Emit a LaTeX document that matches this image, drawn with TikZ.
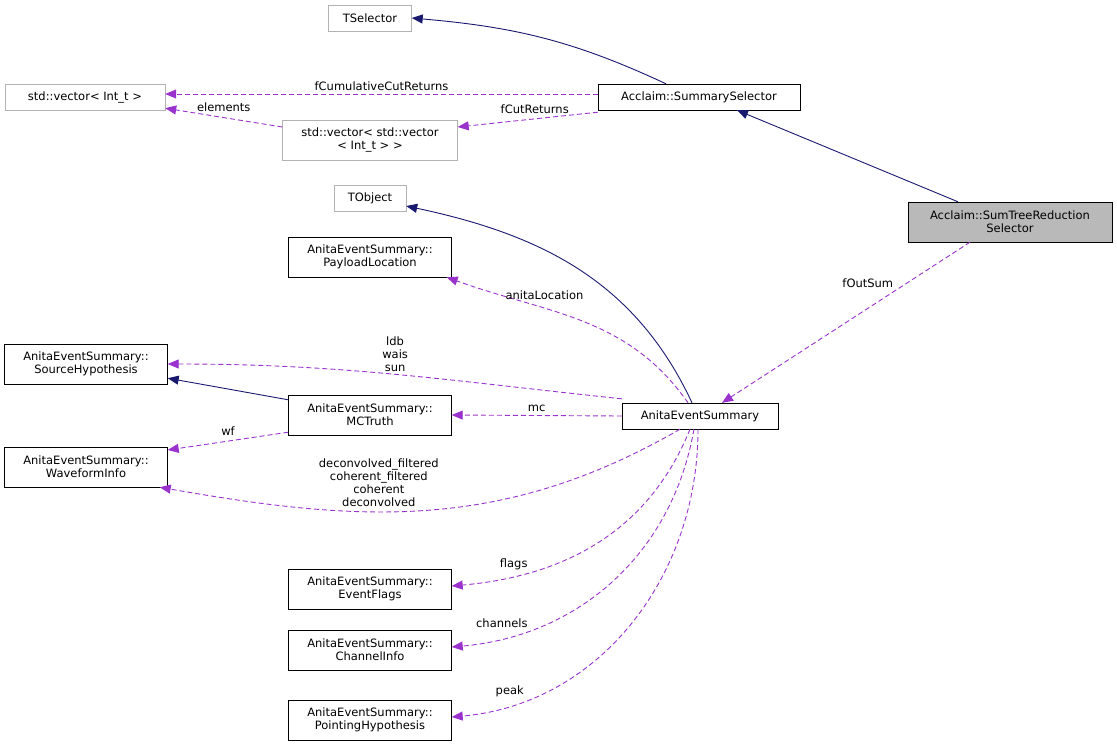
\documentclass[tikz,border=0pt]{standalone}
\usepackage{fontspec}
\setmainfont{DejaVu Sans}
\usepackage{tikz}
\usetikzlibrary{arrows.meta,calc}
\definecolor{orchid}{HTML}{9A32CD}
\definecolor{navyblue}{HTML}{191970}
\tikzset{
  font={\fontsize{11.5pt}{13pt}\selectfont},
  cls/.style={draw=black,fill=white,align=center,inner sep=2pt,minimum height=26pt},
  ext/.style={cls,draw=gray!60},
  inh/.style={draw=navyblue,line width=0.9pt,-{Triangle[length=11pt,width=9pt]}},
  use/.style={draw=orchid,line width=0.9pt,dash pattern=on 5pt off 3pt,-{Triangle[length=11pt,width=9pt]}},
  lbl/.style={align=center,inner sep=2pt}}

\begin{document}
\begin{tikzpicture}[x=1pt,y=-1pt]
\useasboundingbox (0,0) rectangle (1117,745);
% classes
\node [ext,minimum width=83pt] (tsel) at (370,18) {TSelector};
\node [ext,minimum width=160pt] (vint) at (85,97) {std::vector< Int\_t >};
\node [cls,minimum width=202pt] (ssel) at (699,97) {Acclaim::SummarySelector};
\node [ext,minimum width=175pt,minimum height=40pt] (vvint) at (370,140) {std::vector< std::vector\\< Int\_t > >};
\node [ext,minimum width=72pt] (tobj) at (370,198) {TObject};
\node [cls,fill=gray!55,minimum width=204pt,minimum height=40pt] (strs) at (1010,222) {Acclaim::SumTreeReduction\\Selector};
\node [cls,minimum width=163pt,minimum height=40pt] (ploc) at (370,257) {AnitaEventSummary::\\PayloadLocation};
\node [cls,minimum width=163pt,minimum height=40pt] (shyp) at (86,364) {AnitaEventSummary::\\SourceHypothesis};
\node [cls,minimum width=163pt,minimum height=40pt] (mct) at (370,415) {AnitaEventSummary::\\MCTruth};
\node [cls,minimum width=156pt] (aes) at (700,416) {AnitaEventSummary};
\node [cls,minimum width=163pt,minimum height=40pt] (wfi) at (86,467) {AnitaEventSummary::\\WaveformInfo};
\node [cls,minimum width=163pt,minimum height=40pt] (efl) at (370,589) {AnitaEventSummary::\\EventFlags};
\node [cls,minimum width=163pt,minimum height=40pt] (chi) at (370,650) {AnitaEventSummary::\\ChannelInfo};
\node [cls,minimum width=163pt,minimum height=40pt] (phyp) at (370,720) {AnitaEventSummary::\\PointingHypothesis};
% inheritance
\draw [inh] ($(ssel.north)+(-33,0)$) to[out=155,in=-5] (tsel.east);
\draw [inh] ($(strs.north)+(-52,0)$) -- ($(ssel.south)+(38,0)$);
\draw [inh] ($(aes.north)+(-8,0)$) to[out=115,in=-12] ($(tobj.east)+(0,8)$);
\draw [inh] ($(mct.north west)+(0,5)$) -- ($(shyp.south east)+(0,-6)$);
% members
\draw [use] ($(ssel.west)+(0,-3)$) -- node [lbl,above=1pt] {fCumulativeCutReturns} ($(vint.east)+(0,-3)$);
\draw [use] ($(ssel.south west)+(0,2)$) -- node [lbl,above=3pt,pos=0.45] {fCutReturns} ($(vvint.east)+(0,-13)$);
\draw [use] ($(vvint.west)+(0,-13)$) -- node [lbl,above=3pt,pos=0.5] {elements} ($(vint.south east)+(0,-2)$);
\draw [use] ($(strs.south)+(-40,0)$) -- node [lbl,above left,pos=0.3] {fOutSum} ($(aes.north)+(22,0)$);
\draw [use] ($(aes.north)+(-12,0)$) to[out=125,in=-20] node [lbl,above=6pt,pos=0.65] {anitaLocation} ($(ploc.south east)+(-5,0)$);
\draw [use] ($(aes.north west)+(0,-4)$) to[out=174,in=0] node [lbl,above,pos=0.5] {ldb\\wais\\sun} (shyp.east);
\draw [use] (aes.west) -- node [lbl,above=1pt] {mc} (mct.east);
\draw [use] ($(mct.south west)+(0,-3)$) -- node [lbl,above=3pt] {wf} ($(wfi.east)+(0,-17)$);
\draw [use] ($(aes.south)+(-20,0)$) to[out=-150,in=-10] node [lbl,above=2pt,pos=0.6] {deconvolved\_filtered\\coherent\_filtered\\coherent\\deconvolved} ($(wfi.south east)+(-8,0)$);
\draw [use] ($(aes.south)+(-10,0)$) to[out=-112,in=5] node [lbl,above left,pos=0.75] {flags} ($(efl.east)+(0,-3)$);
\draw [use] ($(aes.south)+(-6,0)$) to[out=-100,in=5] node [lbl,above left,pos=0.78] {channels} ($(chi.east)+(0,-3)$);
\draw [use] ($(aes.south)+(-2,0)$) to[out=-90,in=5] node [lbl,above left,pos=0.82] {peak} ($(phyp.east)+(0,-3)$);
\end{tikzpicture}
\end{document}
